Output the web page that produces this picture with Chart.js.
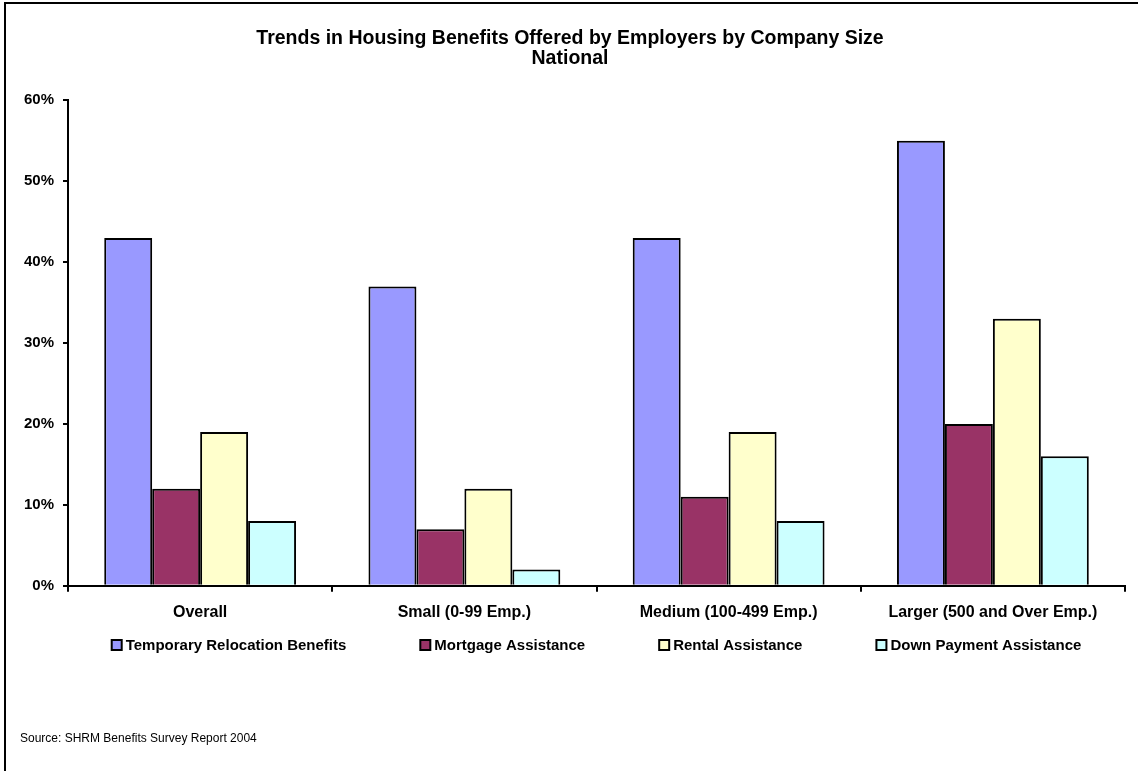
<!DOCTYPE html>
<html>
<head>
<meta charset="utf-8">
<script src="https://cdn.jsdelivr.net/npm/chart.js@4/dist/chart.umd.min.js"></script>
<style>
  html, body { margin: 0; padding: 0; background: #fff; }
  #wrap { width: 1138px; height: 771px; }
</style>
</head>
<body>
<div id="wrap"><canvas id="housingChart" width="1138" height="771"></canvas></div>
<script>
const categories = ['Overall', 'Small (0-99 Emp.)', 'Medium (100-499 Emp.)', 'Larger (500 and Over Emp.)'];
const relocation = [43, 37, 43, 55];
const mortgage = [12, 7, 11, 20];
const rental = [19, 12, 19, 33];
const downPayment = [8, 2, 8, 16];
const yTicks = [0, 10, 20, 30, 40, 50, 60];
const sourceNote = 'Source: SHRM Benefits Survey Report 2004';

const FONT = '"Liberation Sans", Arial, sans-serif';

// frame line along the top and left edges, legend row and source note
const decorations = {
    id: 'decorations',
    beforeDraw(chart) {
        const c = chart.ctx;
        c.save();
        c.fillStyle = '#000';
        c.fillRect(4, 2, chart.width - 4, 2);
        c.fillRect(4, 2, 2, chart.height - 2);
        c.restore();
    },
    afterDraw(chart) {
        const c = chart.ctx;
        const area = chart.chartArea;
        c.save();
        c.font = 'bold 15px ' + FONT;
        c.textBaseline = 'middle';
        const box = 10, gap = 4, spacing = 74;
        const items = chart.data.datasets.map(ds => ({
            text: ds.label, color: ds.backgroundColor,
            w: box + gap + c.measureText(ds.label).width
        }));
        const total = items.reduce((s, it) => s + it.w, 0) + spacing * (items.length - 1);
        let x = (area.left + area.right) / 2 - total / 2;
        const y = 645;
        items.forEach(it => {
            c.fillStyle = it.color;
            c.fillRect(x, y - box / 2, box, box);
            c.lineWidth = 2;
            c.strokeStyle = '#000';
            c.strokeRect(x, y - box / 2, box, box);
            c.fillStyle = '#000';
            c.fillText(it.text, x + box + gap, y + 1);
            x += it.w + spacing;
        });
        c.font = '12px ' + FONT;
        c.fillText(sourceNote, 20, 739);
        c.restore();
    }
};

new Chart(document.getElementById('housingChart'), {
    type: 'bar',
    data: {
        labels: categories,
        datasets: [
            { label: 'Temporary Relocation Benefits', data: relocation, backgroundColor: '#9999FF' },
            { label: 'Mortgage Assistance', data: mortgage, backgroundColor: '#993366' },
            { label: 'Rental Assistance', data: rental, backgroundColor: '#FFFFCC' },
            { label: 'Down Payment Assistance', data: downPayment, backgroundColor: '#CCFFFF' }
        ]
    },
    options: {
        responsive: false,
        animation: false,
        layout: { padding: { left: 15, right: 13, top: 0, bottom: 138 } },
        datasets: {
            bar: {
                borderColor: '#000',
                borderWidth: 2,
                categoryPercentage: 0.726,
                barPercentage: 1.0
            }
        },
        plugins: {
            legend: { display: false },
            tooltip: { enabled: false },
            title: {
                display: true,
                text: ['Trends in Housing Benefits Offered by Employers by Company Size', 'National'],
                color: '#000',
                font: { family: FONT, size: 19.5, weight: 'bold', lineHeight: 1.06 },
                padding: { top: 28, bottom: 31 }
            }
        },
        scales: {
            x: {
                grid: { display: true, drawOnChartArea: false, color: '#000', tickLength: 6, lineWidth: 2 },
                border: { color: '#000', width: 2 },
                ticks: { color: '#000', padding: 11, font: { family: FONT, size: 16, weight: 'bold' } }
            },
            y: {
                min: 0,
                max: 60,
                afterBuildTicks(axis) { axis.ticks = yTicks.map(v => ({ value: v })); },
                grid: { display: true, drawOnChartArea: false, color: '#000', tickLength: 5, lineWidth: 2 },
                border: { color: '#000', width: 2 },
                ticks: {
                    color: '#000', padding: 9,
                    font: { family: FONT, size: 15, weight: 'bold' },
                    callback: v => v + '%'
                }
            }
        }
    },
    plugins: [decorations]
});
</script>
</body>
</html>
